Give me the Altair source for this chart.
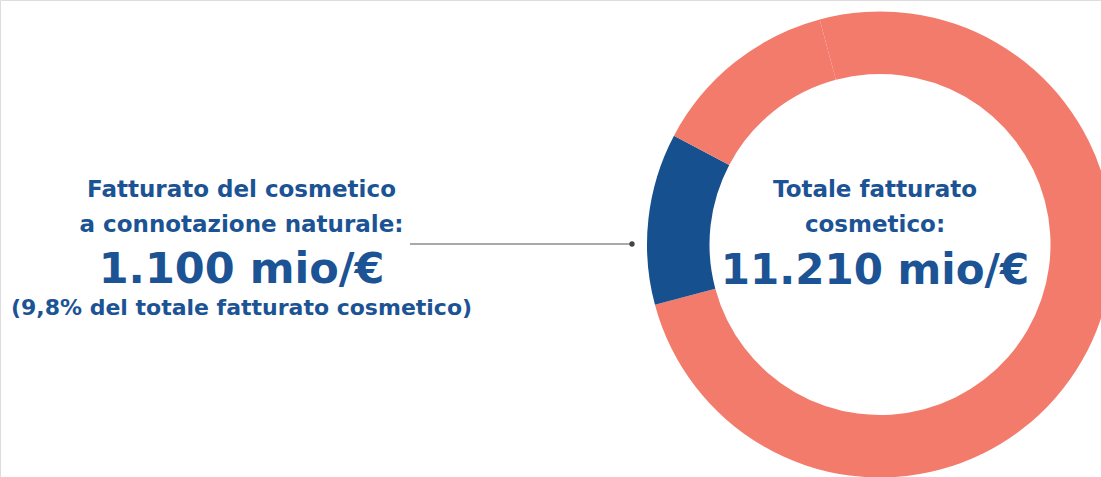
import math
import altair as alt
import pandas as pd

# Donut slices (share of the ring, as drawn), starting at the top seam and going clockwise
slice_names = ["Altro fatturato (a)", "Cosmetico a connotazione naturale", "Altro fatturato (b)"]
slice_shares = [75.0, 11.9, 13.1]
slice_colors = ["#F37B6B", "#17508E", "#F37B6B"]

left_lines = ["Fatturato del cosmetico", "a connotazione naturale:"]
left_value = "1.100 mio/€"
left_note = "(9,8% del totale fatturato cosmetico)"
center_lines = ["Totale fatturato", "cosmetico:"]
center_value = "11.210 mio/€"

TEXT_COLOR = "#1B5394"
FONT = "DejaVu Sans"

df = pd.DataFrame({"name": slice_names, "share": slice_shares, "order": list(range(len(slice_names)))})

start = math.radians(345)
donut = alt.Chart(df).mark_arc(innerRadius=170.5, outerRadius=233, stroke=None).encode(
    theta=alt.Theta("share:Q", stack=True, scale=alt.Scale(range=[start, start + 2 * math.pi])),
    order=alt.Order("order:Q"),
    color=alt.Color("name:N", scale=alt.Scale(domain=slice_names, range=slice_colors), legend=None),
    x=alt.value(880),
    y=alt.value(244.5),
)

def txt(s, x, y, size, weight="bold"):
    return alt.Chart(pd.DataFrame({"t": [s]})).mark_text(
        font=FONT, fontSize=size, fontWeight=weight, color=TEXT_COLOR,
        align="center", baseline="alphabetic",
    ).encode(text="t:N", x=alt.value(x), y=alt.value(y))

layers = [donut]
layers.append(txt(left_lines[0], 241.5, 197, 23))
layers.append(txt(left_lines[1], 241.5, 232, 23))
layers.append(txt(left_value, 241.5, 283, 43))
layers.append(txt(left_note, 241.5, 315, 22))
layers.append(txt(center_lines[0], 875, 197, 23))
layers.append(txt(center_lines[1], 875, 232, 23))
layers.append(txt(center_value, 875, 284, 42))

connector = alt.Chart(pd.DataFrame({"a": [0]})).mark_rule(color="#555555", strokeWidth=1.2).encode(
    x=alt.value(410), x2=alt.value(632), y=alt.value(244))
dot = alt.Chart(pd.DataFrame({"a": [0]})).mark_point(filled=True, color="#444444", size=28, opacity=1).encode(
    x=alt.value(632), y=alt.value(244))
layers += [connector, dot]

chart = alt.layer(*layers).properties(
    width=1101, height=477, padding=0, autosize=alt.AutoSizeParams(type="none"),
).configure_view(stroke=None).configure(background="white")

chart.save("out.html", embed_options={"renderer": "svg", "actions": False})
